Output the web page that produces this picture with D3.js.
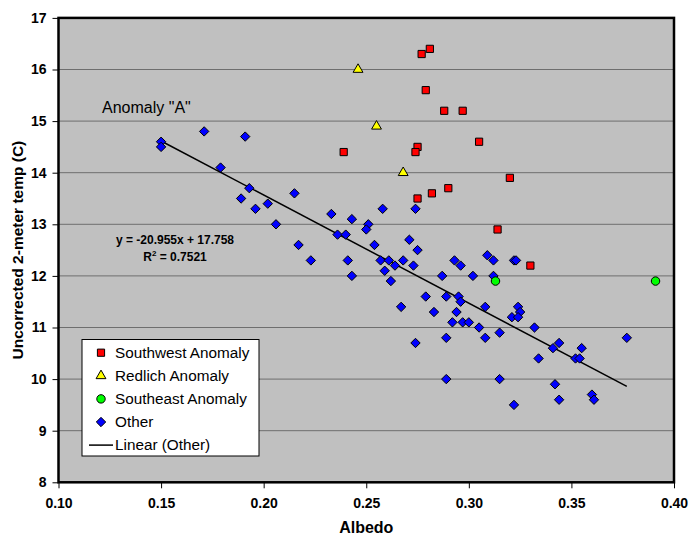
<!DOCTYPE html>
<html>
<head>
<meta charset="utf-8">
<script src="https://cdn.jsdelivr.net/npm/d3@7"></script>
<style>
  body { margin: 0; background: #fff; }
  text { font-family: "Liberation Sans", Arial, sans-serif; }
  .tick text { font-weight: bold; font-size: 14px; fill: #000; }
</style>
</head>
<body>
<div id="chart"></div>
<script>
// data: [albedo, temp]
var southwest = [
    [0.239, 14.4], [0.277, 16.3], [0.281, 16.4], [0.279, 15.6], [0.288, 15.2],
    [0.297, 15.2], [0.275, 14.5], [0.274, 14.4], [0.305, 14.6], [0.320, 13.9],
    [0.290, 13.7], [0.282, 13.6], [0.275, 13.5], [0.314, 12.9], [0.330, 12.2]
];
var redlich = [[0.246, 16.0], [0.255, 14.9], [0.268, 14.0]];
var southeast = [[0.313, 11.9], [0.391, 11.9]];
var other = [
    [0.150, 14.6], [0.150, 14.5], [0.171, 14.8], [0.191, 14.7], [0.179, 14.1],
    [0.193, 13.7], [0.189, 13.5], [0.196, 13.3], [0.202, 13.4], [0.206, 13.0],
    [0.215, 13.6], [0.233, 13.2], [0.243, 13.1], [0.251, 13.0], [0.250, 12.9],
    [0.236, 12.8], [0.240, 12.8], [0.217, 12.6], [0.254, 12.6], [0.258, 13.3],
    [0.274, 13.3], [0.271, 12.7], [0.275, 12.5], [0.223, 12.3], [0.241, 12.3],
    [0.257, 12.3], [0.261, 12.3], [0.268, 12.3], [0.259, 12.1], [0.264, 12.2],
    [0.273, 12.2], [0.243, 12.0], [0.262, 11.9], [0.287, 12.0], [0.289, 11.6],
    [0.279, 11.6], [0.267, 11.4], [0.293, 12.3], [0.296, 12.2], [0.309, 12.4],
    [0.312, 12.3], [0.322, 12.3], [0.323, 12.3], [0.302, 12.0], [0.312, 12.0],
    [0.295, 11.6], [0.296, 11.5], [0.283, 11.3], [0.294, 11.3], [0.308, 11.4],
    [0.324, 11.4], [0.325, 11.3], [0.321, 11.2], [0.324, 11.2], [0.292, 11.1],
    [0.297, 11.1], [0.300, 11.1], [0.305, 11.0], [0.332, 11.0], [0.315, 10.9],
    [0.289, 10.8], [0.308, 10.8], [0.274, 10.7], [0.289, 10.0], [0.315, 10.0],
    [0.322, 9.5], [0.334, 10.4], [0.377, 10.8], [0.344, 10.7], [0.341, 10.6],
    [0.355, 10.6], [0.352, 10.4], [0.354, 10.4], [0.342, 9.9], [0.344, 9.6],
    [0.360, 9.7], [0.361, 9.6]
];
var trend = { slope: -20.955, intercept: 17.758, r2: 0.7521, from: 0.15, to: 0.377 };
var xTicks = [0.10, 0.15, 0.20, 0.25, 0.30, 0.35, 0.40];
var yTicks = [8, 9, 10, 11, 12, 13, 14, 15, 16, 17];

var svgWidth = 689, svgHeight = 537;
var svg = d3.select("#chart").append("svg")
    .attr("width", svgWidth)
    .attr("height", svgHeight);

var xScale = d3.scaleLinear().domain([0.10, 0.40]).range([58.5, 674]);
var yScale = d3.scaleLinear().domain([8, 17]).range([482.3, 17.9]);

// plot area
svg.append("rect")
    .attr("x", xScale(0.10)).attr("y", yScale(17))
    .attr("width", xScale(0.40) - xScale(0.10))
    .attr("height", yScale(8) - yScale(17))
    .attr("fill", "#c0c0c0");

// gridlines
svg.append("g").selectAll("line")
    .data(yTicks.slice(1, -1))
    .enter().append("line")
    .attr("x1", xScale(0.10)).attr("x2", xScale(0.40))
    .attr("y1", d => yScale(d)).attr("y2", d => yScale(d))
    .attr("stroke", "#6e6e6e").attr("stroke-width", 1);

// axes
var bottomAxis = d3.axisBottom(xScale).tickValues(xTicks)
    .tickFormat(d3.format(".2f")).tickSize(6).tickPadding(10);
var leftAxis = d3.axisLeft(yScale).tickValues(yTicks)
    .tickSize(6).tickPadding(6);

var gx = svg.append("g")
    .attr("transform", `translate(0, ${yScale(8)})`)
    .call(bottomAxis);
var gy = svg.append("g")
    .attr("transform", `translate(${xScale(0.10)}, 0)`)
    .call(leftAxis);
gx.select(".domain").remove();
gy.select(".domain").remove();
gx.selectAll(".tick line").attr("stroke", "#000");
gy.selectAll(".tick line").attr("stroke", "#000");

// plot border
svg.append("rect")
    .attr("x", xScale(0.10)).attr("y", yScale(17))
    .attr("width", xScale(0.40) - xScale(0.10))
    .attr("height", yScale(8) - yScale(17))
    .attr("fill", "none").attr("stroke", "#000").attr("stroke-width", 2.5);

// trend line
svg.append("line")
    .attr("x1", xScale(trend.from)).attr("y1", yScale(trend.slope * trend.from + trend.intercept))
    .attr("x2", xScale(trend.to)).attr("y2", yScale(trend.slope * trend.to + trend.intercept))
    .attr("stroke", "#000").attr("stroke-width", 1.5);

// markers
var diamond = d3.symbol().type(d3.symbolDiamond2).size(56);
var square = d3.symbol().type(d3.symbolSquare).size(52);
var triangle = d3.symbol().type(d3.symbolTriangle).size(42);
var circle = d3.symbol().type(d3.symbolCircle).size(56);

function drawSeries(data, sym, fill) {
    svg.append("g").selectAll("path")
        .data(data)
        .enter().append("path")
        .attr("d", sym)
        .attr("transform", d => `translate(${xScale(d[0])}, ${yScale(d[1])})`)
        .attr("fill", fill)
        .attr("stroke", "#000")
        .attr("stroke-width", 1);
}
drawSeries(other, diamond, "#0000ff");
drawSeries(southwest, square, "#ff0000");
drawSeries(redlich, triangle, "#ffff00");
drawSeries(southeast, circle, "#00ff00");

// annotations
svg.append("text")
    .attr("x", 102).attr("y", 113)
    .attr("font-size", 16)
    .text('Anomaly "A"');

var eq = svg.append("text")
    .attr("x", 175).attr("y", 244)
    .attr("text-anchor", "middle")
    .attr("font-size", 12).attr("font-weight", "bold")
    .text(`y = ${trend.slope}x + ${trend.intercept}`);
var r2 = svg.append("text")
    .attr("x", 175).attr("y", 261)
    .attr("text-anchor", "middle")
    .attr("font-size", 12).attr("font-weight", "bold");
r2.append("tspan").text("R");
r2.append("tspan").attr("dy", -5).attr("font-size", 8).text("2");
r2.append("tspan").attr("dy", 5).text(` = ${trend.r2}`);

// axis titles
svg.append("text")
    .attr("x", (xScale(0.10) + xScale(0.40)) / 2).attr("y", 533)
    .attr("text-anchor", "middle")
    .attr("font-size", 16).attr("font-weight", "bold")
    .text("Albedo");

svg.append("text")
    .attr("transform", `translate(23, ${(yScale(8) + yScale(17)) / 2}) rotate(-90)`)
    .attr("text-anchor", "middle")
    .attr("font-size", 15.5).attr("font-weight", "bold")
    .text("Uncorrected 2-meter temp (C)");

// legend
var legendItems = [
    { label: "Southwest Anomaly", sym: square, fill: "#ff0000" },
    { label: "Redlich Anomaly", sym: triangle, fill: "#ffff00" },
    { label: "Southeast Anomaly", sym: circle, fill: "#00ff00" },
    { label: "Other", sym: diamond, fill: "#0000ff" },
    { label: "Linear (Other)", sym: null }
];
var legend = svg.append("g");
legend.append("rect")
    .attr("x", 82).attr("y", 339.5)
    .attr("width", 177).attr("height", 116.5)
    .attr("fill", "#fff").attr("stroke", "#000").attr("stroke-width", 1);

var rows = legend.selectAll("g.row")
    .data(legendItems)
    .enter().append("g")
    .attr("class", "row")
    .attr("transform", (d, i) => `translate(0, ${352.7 + i * 23.1})`);
rows.each(function(d) {
    var g = d3.select(this);
    if (d.sym) {
        g.append("path")
            .attr("d", d.sym)
            .attr("transform", "translate(101, 0)")
            .attr("fill", d.fill).attr("stroke", "#000").attr("stroke-width", 1);
    } else {
        g.append("line")
            .attr("x1", 89).attr("x2", 113)
            .attr("stroke", "#000").attr("stroke-width", 1.5);
    }
    g.append("text")
        .attr("x", 115).attr("dy", "0.35em")
        .attr("font-size", 15.3)
        .text(d.label);
});
</script>
</body>
</html>
